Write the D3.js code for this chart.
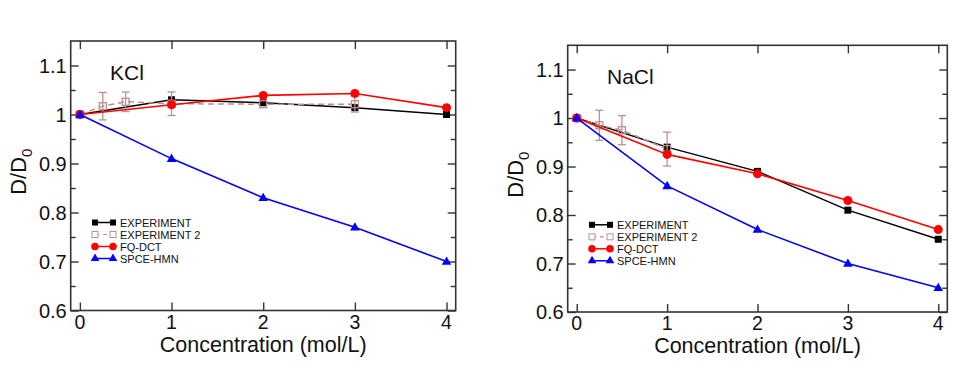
<!DOCTYPE html>
<html>
<head>
<meta charset="utf-8">
<script src="https://cdn.jsdelivr.net/npm/d3@7"></script>
<style>
html,body{margin:0;padding:0;background:#fff;}
svg{display:block;font-family:"Liberation Sans",Arial,Helvetica,sans-serif;}
</style>
</head>
<body>
<svg id="chart" width="973" height="387"></svg>
<script>
// ---- Data ----
const concentrations = [0, 1, 2, 3, 4];
const xTicks = [0, 1, 2, 3, 4];
const yTicks = [0.6, 0.7, 0.8, 0.9, 1.0, 1.1];
const yTickLabels = ["0.6", "0.7", "0.8", "0.9", "1", "1.1"];
const seriesNames = ["EXPERIMENT", "EXPERIMENT 2", "FQ-DCT", "SPCE-HMN"];

// KCl
const kclExperiment = [1.0, 1.03, 1.024, 1.014, 1.0];
const kclExp2X = [0, 0.25, 0.5, 1, 2, 3];
const kclExp2 = [1.0, 1.017, 1.026, 1.022, 1.021, 1.021];
const kclExp2Err = [0, 0.028, 0.02, 0.024, 0, 0.016];
const kclFQDCT = [1.0, 1.02, 1.039, 1.043, 1.014];
const kclSPCE = [1.0, 0.91, 0.83, 0.77, 0.70];

// NaCl
const naclExperiment = [1.0, 0.94, 0.89, 0.81, 0.75];
const naclExp2X = [0, 0.25, 0.5, 1];
const naclExp2 = [1.0, 0.985, 0.975, 0.936];
const naclExp2Err = [0, 0.031, 0.03, 0.035];
const naclFQDCT = [1.0, 0.925, 0.885, 0.83, 0.77];
const naclSPCE = [1.0, 0.86, 0.77, 0.70, 0.65];

// ---- Drawing ----
const svg = d3.select("#chart");
const colors = {exp: "#000000", exp2: "#bc8f8f", fq: "#ff0000", spce: "#0000ff"};

function drawPanel(cfg) {
  const g = svg.append("g");
  const x = d3.scaleLinear().domain([-0.1, 4.1]).range([cfg.left, cfg.right]);
  const y = d3.scaleLinear().domain([0.6, 1.15]).range([cfg.bottom, cfg.top]);

  const frameColor = "#333";
  const minorY = d3.range(0.65, 1.15, 0.1);
  const styleTicks = s => {
    s.select(".domain").remove();
    s.selectAll("line").attr("stroke", frameColor).attr("stroke-width", 1.4);
  };
  // left
  g.append("g").attr("transform", `translate(${cfg.left},0)`)
    .call(d3.axisRight(y).tickValues(yTicks).tickSize(8).tickFormat("")).call(styleTicks);
  g.append("g").attr("transform", `translate(${cfg.left},0)`)
    .call(d3.axisRight(y).tickValues(minorY).tickSize(5).tickFormat("")).call(styleTicks);
  // right
  g.append("g").attr("transform", `translate(${cfg.right},0)`)
    .call(d3.axisLeft(y).tickValues(yTicks).tickSize(8).tickFormat("")).call(styleTicks);
  g.append("g").attr("transform", `translate(${cfg.right},0)`)
    .call(d3.axisLeft(y).tickValues(minorY).tickSize(5).tickFormat("")).call(styleTicks);
  // top
  g.append("g").attr("transform", `translate(0,${cfg.top})`)
    .call(d3.axisBottom(x).tickValues(xTicks).tickSize(8).tickFormat("")).call(styleTicks);
  // bottom
  g.append("g").attr("transform", `translate(0,${cfg.bottom})`)
    .call(d3.axisTop(x).tickValues(xTicks).tickSize(8).tickFormat("")).call(styleTicks);

  // frame
  g.append("rect").attr("x", cfg.left).attr("y", cfg.top)
    .attr("width", cfg.right - cfg.left).attr("height", cfg.bottom - cfg.top)
    .attr("fill", "none").attr("stroke", frameColor).attr("stroke-width", 1.6);

  // tick labels
  g.append("g").selectAll("text").data(yTicks).join("text")
    .attr("x", cfg.left - 4).attr("y", d => y(d) + 7)
    .attr("text-anchor", "end").attr("font-size", 20).attr("fill", "#111")
    .text((d, i) => yTickLabels[i]);
  g.append("g").selectAll("text").data(xTicks).join("text")
    .attr("x", d => x(d)).attr("y", cfg.bottom + 18)
    .attr("text-anchor", "middle").attr("font-size", 19.5).attr("fill", "#111")
    .text(d => d);

  // axis titles
  g.append("text").attr("x", (x(0) + x(4)) / 2).attr("y", cfg.bottom + 41)
    .attr("text-anchor", "middle").attr("font-size", 21.5).attr("fill", "#111")
    .text("Concentration (mol/L)");
  const yl = g.append("text")
    .attr("transform", `translate(${cfg.left - 45},${(cfg.top + cfg.bottom) / 2 - 4}) rotate(-90)`)
    .attr("text-anchor", "middle").attr("font-size", 22).attr("fill", "#111");
  yl.append("tspan").text("D/D");
  yl.append("tspan").attr("font-size", 15).attr("dy", 6).text("0");

  // salt label
  g.append("text").attr("x", cfg.labelX).attr("y", cfg.labelY)
    .attr("font-size", 21).attr("fill", "#111").text(cfg.name);

  const line = d3.line().x(d => x(d[0])).y(d => y(d[1]));

  const expPts = concentrations.map((c, i) => [c, cfg.exp[i]]);
  const exp2Pts = cfg.exp2X.map((c, i) => [c, cfg.exp2[i], cfg.exp2Err[i]]);
  const fqPts = concentrations.map((c, i) => [c, cfg.fq[i]]);
  const spcePts = concentrations.map((c, i) => [c, cfg.spce[i]]);

  // EXPERIMENT line
  g.append("path").attr("d", line(expPts)).attr("fill", "none")
    .attr("stroke", colors.exp).attr("stroke-width", 1.5);
  // EXP2 dashed line
  g.append("path").attr("d", line(exp2Pts)).attr("fill", "none")
    .attr("stroke", colors.exp2).attr("stroke-width", 1.5).attr("stroke-dasharray", "6,4");
  // EXP markers
  g.append("g").selectAll("rect").data(expPts).join("rect")
    .attr("x", d => x(d[0]) - 3.5).attr("y", d => y(d[1]) - 3.5)
    .attr("width", 7).attr("height", 7).attr("fill", colors.exp);
  // EXP2 error bars
  const eb = g.append("g").attr("stroke", colors.exp2).attr("stroke-width", 1.3);
  exp2Pts.filter(d => d[2] > 0).forEach(d => {
    const cx = x(d[0]);
    eb.append("line").attr("x1", cx).attr("x2", cx).attr("y1", y(d[1] + d[2])).attr("y2", y(d[1] - d[2]));
    eb.append("line").attr("x1", cx - 4).attr("x2", cx + 4).attr("y1", y(d[1] + d[2])).attr("y2", y(d[1] + d[2]));
    eb.append("line").attr("x1", cx - 4).attr("x2", cx + 4).attr("y1", y(d[1] - d[2])).attr("y2", y(d[1] - d[2]));
  });
  // EXP2 markers (open squares)
  g.append("g").selectAll("rect").data(exp2Pts).join("rect")
    .attr("x", d => x(d[0]) - 3.5).attr("y", d => y(d[1]) - 3.5)
    .attr("width", 7).attr("height", 7).attr("fill", "none")
    .attr("stroke", colors.exp2).attr("stroke-width", 1.3);

  // FQ-DCT
  g.append("path").attr("d", line(fqPts)).attr("fill", "none")
    .attr("stroke", colors.fq).attr("stroke-width", 1.6);
  g.append("g").selectAll("circle").data(fqPts).join("circle")
    .attr("cx", d => x(d[0])).attr("cy", d => y(d[1])).attr("r", 4.5).attr("fill", colors.fq);

  // SPCE-HMN
  g.append("path").attr("d", line(spcePts)).attr("fill", "none")
    .attr("stroke", colors.spce).attr("stroke-width", 1.6);
  const tri = d3.symbol().type(d3.symbolTriangle).size(40);
  g.append("g").selectAll("path").data(spcePts).join("path")
    .attr("transform", d => `translate(${x(d[0])},${y(d[1]) + 0.5})`)
    .attr("d", tri).attr("fill", colors.spce);

  // legend
  const lg = g.append("g");
  const lx1 = cfg.legX, lx2 = cfg.legX + 18, tx = cfg.legX + 25;
  seriesNames.forEach((name, i) => {
    const ly = cfg.legY + i * 12;
    const key = ["exp", "exp2", "fq", "spce"][i];
    const ln = lg.append("line").attr("x1", lx1).attr("x2", lx2).attr("y1", ly).attr("y2", ly)
      .attr("stroke", colors[key]).attr("stroke-width", 1.5);
    if (key === "exp2") ln.attr("stroke-dasharray", "4,4").attr("stroke-width", 1.2);
    [lx1, lx2].forEach(px => {
      if (key === "exp") lg.append("rect").attr("x", px - 3).attr("y", ly - 3).attr("width", 6).attr("height", 6).attr("fill", colors.exp);
      if (key === "exp2") lg.append("rect").attr("x", px - 3).attr("y", ly - 3).attr("width", 6).attr("height", 6).attr("fill", "#fff").attr("stroke", colors.exp2).attr("stroke-width", 1);
      if (key === "fq") lg.append("circle").attr("cx", px).attr("cy", ly).attr("r", 3.8).attr("fill", colors.fq);
      if (key === "spce") lg.append("path").attr("transform", `translate(${px},${ly})`).attr("d", d3.symbol().type(d3.symbolTriangle).size(32)).attr("fill", colors.spce);
    });
    lg.append("text").attr("x", tx).attr("y", ly + 4).attr("font-size", 11).attr("fill", "#111").text(name);
  });
}

drawPanel({
  name: "KCl", left: 70.7, right: 455.7, top: 41, bottom: 310.5,
  labelX: 110, labelY: 80, legX: 95, legY: 222.5,
  exp: kclExperiment, exp2X: kclExp2X, exp2: kclExp2, exp2Err: kclExp2Err,
  fq: kclFQDCT, spce: kclSPCE
});
drawPanel({
  name: "NaCl", left: 567.7, right: 947.3, top: 45.3, bottom: 312,
  labelX: 607, labelY: 83.5, legX: 592, legY: 224.8,
  exp: naclExperiment, exp2X: naclExp2X, exp2: naclExp2, exp2Err: naclExp2Err,
  fq: naclFQDCT, spce: naclSPCE
});
</script>
</body>
</html>
